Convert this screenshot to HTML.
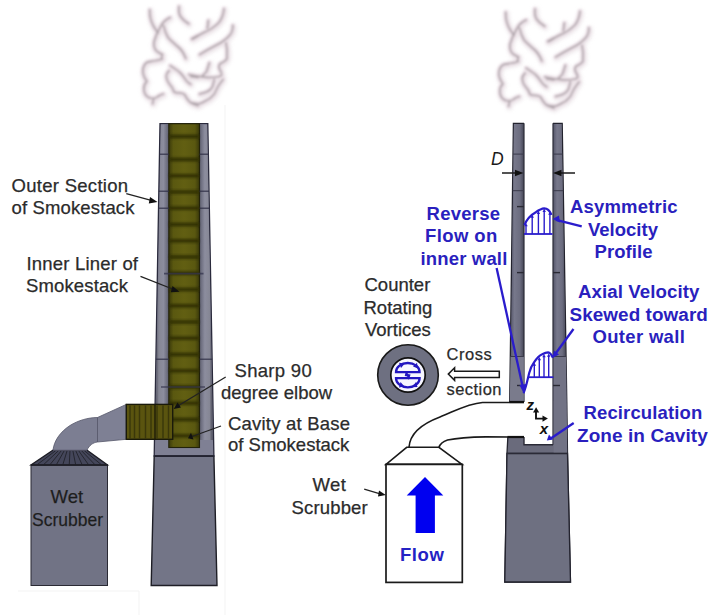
<!DOCTYPE html>
<html><head><meta charset="utf-8">
<style>
html,body{margin:0;padding:0;background:#fff;width:720px;height:615px;overflow:hidden}
svg{display:block}
text{font-family:"Liberation Sans",sans-serif;font-size:18.5px}
.k{fill:#2b2b2b;stroke:#2b2b2b;stroke-width:0.25px}
.b{fill:#2a1fbe;font-weight:bold}
</style></head><body>
<svg width="720" height="615" viewBox="0 0 720 615">
<defs><filter id="sb" x="-20%" y="-20%" width="140%" height="140%"><feGaussianBlur stdDeviation="0.8"/></filter>
<filter id="sb2" x="-30%" y="-30%" width="160%" height="160%"><feGaussianBlur stdDeviation="2.2"/></filter>
<g id="smoke" fill="none" stroke-linecap="round" stroke-linejoin="round">
<g filter="url(#sb2)" stroke="#e6dde2" stroke-width="5" opacity="0.9"><path d="M149.7,9.8 C149.5,16 151,22 154,27 C155.5,29.5 157,31 158,33" transform="translate(0.8,1.2)"/><path d="M170.2,17.6 C166,19.5 163,22 161,26 C158.5,30 156,35 154.3,41 C153.5,45 154,48 156,50.5 C158,52.5 160.5,53.5 162.4,54.6" transform="translate(0.8,1.2)"/><path d="M163.4,25.4 C164.5,30 166,34 168,37.5 C171,41 174.5,43.5 177,46 C180.5,48.5 183,51 185.8,58.5" transform="translate(0.8,1.2)"/><path d="M179,6.5 C178.6,10 178.8,13.5 180.5,16.5 C182.5,19.5 185,21.5 188.7,23.8" transform="translate(0.8,1.2)"/><path d="M224,8.8 C223.5,14 222.5,18 219,22.5 C215,26.5 210,30 204.5,32.2 C200,34.5 196,37 192.8,39" transform="translate(0.8,1.2)"/><path d="M208.4,20.5 C208,23 207.8,26 207.4,28.3" transform="translate(0.8,1.2)"/><path d="M232.8,25.4 C233,29 232.5,32 230,35 C227.5,38 225,40 222,42 C217,45 210,48 199.6,54.6" transform="translate(0.8,1.2)"/><path d="M226,42.9 C227,47 227.5,53 227,58.5 C226.5,60 224,62 220.1,63.8 C219,65 218.8,67 219.5,69 C221,71 222,73 221.5,75.5 C219,77.5 213,77.6 207.4,77.4 C201,77 196,76.5 188.9,74.5" transform="translate(0.8,1.2)"/><path d="M162.4,58.9 C159,60.5 153,61.2 147.8,62 C144,64 143,67.5 142.9,71 C142.8,75 144.5,78 146.8,81.3 C144.5,83.5 143.9,86 143.9,89 C144,93 146,96.5 149.7,97.9 C152,99 155,99 158,96.5 C160,95 161.5,94.3 163.4,94" transform="translate(0.8,1.2)"/><path d="M153.6,99.9 C153,101 152.8,102.5 152.6,103.8" transform="translate(0.8,1.2)"/><path d="M169.2,70.6 C167,72.5 166.3,74.5 166.3,76.5 C166.5,79 167,81 169,83.5 C171,85.5 172.8,88 174.1,92 C176,93 178,93 180,93 C182,93.3 183.5,93.5 184.5,94.5 C185.5,96 186.5,99 189.7,101.8 C192,103.5 195,105 198,105.7" transform="translate(0.8,1.2)"/><path d="M170.2,65.7 C173,67.5 177,70 180,72.6 C183,75.5 185,79 186.8,81.3 C188,82.5 189.5,83.8 190.7,84.3" transform="translate(0.8,1.2)"/><path d="M190.7,76.5 C193,76.8 195.5,77.1 198,77.4" transform="translate(0.8,1.2)"/><path d="M209.4,62.8 C208.5,66 207.5,69 206.5,71.6 C205.5,73 204,74.5 202.6,75.5" transform="translate(0.8,1.2)"/><path d="M223,79.4 C221,82 219.5,84 218.2,86.2 C216.5,89 215.5,92 214.3,94 C212.5,96 211,97.5 209.4,98.9 C206,100.5 203,102.5 199.6,103.8 C196,104 193.5,103.3 190.9,102.8" transform="translate(0.8,1.2)"/><path d="M214.3,79.4 C213.8,82 213.3,85 212.3,87.2 C211,89.5 209,91 206.5,92 C204,93 202,93.5 199.6,94" transform="translate(0.8,1.2)"/><path d="M191.7,39 C194,37.5 196,36.5 198,35.6" transform="translate(0.8,1.2)"/><path d="M161.4,58.5 C161.8,56.5 162,55.5 162.4,54.6" transform="translate(0.8,1.2)"/></g>
<g filter="url(#sb)">
<g stroke="#ede2e8" stroke-width="4.5"><path d="M149.7,9.8 C149.5,16 151,22 154,27 C155.5,29.5 157,31 158,33"/><path d="M170.2,17.6 C166,19.5 163,22 161,26 C158.5,30 156,35 154.3,41 C153.5,45 154,48 156,50.5 C158,52.5 160.5,53.5 162.4,54.6"/><path d="M163.4,25.4 C164.5,30 166,34 168,37.5 C171,41 174.5,43.5 177,46 C180.5,48.5 183,51 185.8,58.5"/><path d="M179,6.5 C178.6,10 178.8,13.5 180.5,16.5 C182.5,19.5 185,21.5 188.7,23.8"/><path d="M224,8.8 C223.5,14 222.5,18 219,22.5 C215,26.5 210,30 204.5,32.2 C200,34.5 196,37 192.8,39"/><path d="M208.4,20.5 C208,23 207.8,26 207.4,28.3"/><path d="M232.8,25.4 C233,29 232.5,32 230,35 C227.5,38 225,40 222,42 C217,45 210,48 199.6,54.6"/><path d="M226,42.9 C227,47 227.5,53 227,58.5 C226.5,60 224,62 220.1,63.8 C219,65 218.8,67 219.5,69 C221,71 222,73 221.5,75.5 C219,77.5 213,77.6 207.4,77.4 C201,77 196,76.5 188.9,74.5"/><path d="M162.4,58.9 C159,60.5 153,61.2 147.8,62 C144,64 143,67.5 142.9,71 C142.8,75 144.5,78 146.8,81.3 C144.5,83.5 143.9,86 143.9,89 C144,93 146,96.5 149.7,97.9 C152,99 155,99 158,96.5 C160,95 161.5,94.3 163.4,94"/><path d="M153.6,99.9 C153,101 152.8,102.5 152.6,103.8"/><path d="M169.2,70.6 C167,72.5 166.3,74.5 166.3,76.5 C166.5,79 167,81 169,83.5 C171,85.5 172.8,88 174.1,92 C176,93 178,93 180,93 C182,93.3 183.5,93.5 184.5,94.5 C185.5,96 186.5,99 189.7,101.8 C192,103.5 195,105 198,105.7"/><path d="M170.2,65.7 C173,67.5 177,70 180,72.6 C183,75.5 185,79 186.8,81.3 C188,82.5 189.5,83.8 190.7,84.3"/><path d="M190.7,76.5 C193,76.8 195.5,77.1 198,77.4"/><path d="M209.4,62.8 C208.5,66 207.5,69 206.5,71.6 C205.5,73 204,74.5 202.6,75.5"/><path d="M223,79.4 C221,82 219.5,84 218.2,86.2 C216.5,89 215.5,92 214.3,94 C212.5,96 211,97.5 209.4,98.9 C206,100.5 203,102.5 199.6,103.8 C196,104 193.5,103.3 190.9,102.8"/><path d="M214.3,79.4 C213.8,82 213.3,85 212.3,87.2 C211,89.5 209,91 206.5,92 C204,93 202,93.5 199.6,94"/><path d="M191.7,39 C194,37.5 196,36.5 198,35.6"/><path d="M161.4,58.5 C161.8,56.5 162,55.5 162.4,54.6"/></g>
<g stroke="#aaa0a6" stroke-width="1.6"><path d="M149.7,9.8 C149.5,16 151,22 154,27 C155.5,29.5 157,31 158,33"/><path d="M170.2,17.6 C166,19.5 163,22 161,26 C158.5,30 156,35 154.3,41 C153.5,45 154,48 156,50.5 C158,52.5 160.5,53.5 162.4,54.6"/><path d="M163.4,25.4 C164.5,30 166,34 168,37.5 C171,41 174.5,43.5 177,46 C180.5,48.5 183,51 185.8,58.5"/><path d="M179,6.5 C178.6,10 178.8,13.5 180.5,16.5 C182.5,19.5 185,21.5 188.7,23.8"/><path d="M224,8.8 C223.5,14 222.5,18 219,22.5 C215,26.5 210,30 204.5,32.2 C200,34.5 196,37 192.8,39"/><path d="M208.4,20.5 C208,23 207.8,26 207.4,28.3"/><path d="M232.8,25.4 C233,29 232.5,32 230,35 C227.5,38 225,40 222,42 C217,45 210,48 199.6,54.6"/><path d="M226,42.9 C227,47 227.5,53 227,58.5 C226.5,60 224,62 220.1,63.8 C219,65 218.8,67 219.5,69 C221,71 222,73 221.5,75.5 C219,77.5 213,77.6 207.4,77.4 C201,77 196,76.5 188.9,74.5"/><path d="M162.4,58.9 C159,60.5 153,61.2 147.8,62 C144,64 143,67.5 142.9,71 C142.8,75 144.5,78 146.8,81.3 C144.5,83.5 143.9,86 143.9,89 C144,93 146,96.5 149.7,97.9 C152,99 155,99 158,96.5 C160,95 161.5,94.3 163.4,94"/><path d="M153.6,99.9 C153,101 152.8,102.5 152.6,103.8"/><path d="M169.2,70.6 C167,72.5 166.3,74.5 166.3,76.5 C166.5,79 167,81 169,83.5 C171,85.5 172.8,88 174.1,92 C176,93 178,93 180,93 C182,93.3 183.5,93.5 184.5,94.5 C185.5,96 186.5,99 189.7,101.8 C192,103.5 195,105 198,105.7"/><path d="M170.2,65.7 C173,67.5 177,70 180,72.6 C183,75.5 185,79 186.8,81.3 C188,82.5 189.5,83.8 190.7,84.3"/><path d="M190.7,76.5 C193,76.8 195.5,77.1 198,77.4"/><path d="M209.4,62.8 C208.5,66 207.5,69 206.5,71.6 C205.5,73 204,74.5 202.6,75.5"/><path d="M223,79.4 C221,82 219.5,84 218.2,86.2 C216.5,89 215.5,92 214.3,94 C212.5,96 211,97.5 209.4,98.9 C206,100.5 203,102.5 199.6,103.8 C196,104 193.5,103.3 190.9,102.8"/><path d="M214.3,79.4 C213.8,82 213.3,85 212.3,87.2 C211,89.5 209,91 206.5,92 C204,93 202,93.5 199.6,94"/><path d="M191.7,39 C194,37.5 196,36.5 198,35.6"/><path d="M161.4,58.5 C161.8,56.5 162,55.5 162.4,54.6"/></g>
</g>
</g>
<linearGradient id="wallL" x1="0" x2="1" y1="0" y2="0"><stop offset="0" stop-color="#4a4a58"/><stop offset="0.25" stop-color="#868795"/><stop offset="0.6" stop-color="#8c8d9e"/><stop offset="1" stop-color="#5e5f70"/></linearGradient>
<linearGradient id="wallR" x1="0" x2="1" y1="0" y2="0"><stop offset="0" stop-color="#5e5f70"/><stop offset="0.4" stop-color="#8c8d9e"/><stop offset="0.75" stop-color="#868795"/><stop offset="1" stop-color="#4a4a58"/></linearGradient>
<linearGradient id="band" x1="0" x2="0" y1="0" y2="1"><stop offset="0" stop-color="#635e14" stop-opacity="0"/><stop offset="0.5" stop-color="#2f2f0c"/><stop offset="1" stop-color="#635e14" stop-opacity="0"/></linearGradient>
<linearGradient id="rwall" x1="0" x2="1" y1="0" y2="0"><stop offset="0" stop-color="#55566a"/><stop offset="0.3" stop-color="#77788b"/><stop offset="0.7" stop-color="#6c6d80"/><stop offset="1" stop-color="#454656"/></linearGradient>
<filter id="bb" x="-5%" y="-5%" width="110%" height="110%"><feGaussianBlur stdDeviation="0.9"/></filter>
<linearGradient id="liner" x1="0" x2="1" y1="0" y2="0"><stop offset="0" stop-color="#3a390a"/><stop offset="0.15" stop-color="#5a5810"/><stop offset="0.5" stop-color="#625f12"/><stop offset="0.85" stop-color="#5a5810"/><stop offset="1" stop-color="#3a390a"/></linearGradient>
</defs>
<use href="#smoke"/>
<use href="#smoke" transform="translate(356,2.5)"/>
<g stroke="#f3f3f3" stroke-width="1" fill="none"><path d="M225,105 V615"/><path d="M18,591 H139 V615"/></g>
<polygon points="154.2,456 213.9,456 217,585.5 151.2,585.5" fill="#737587" stroke="#1e1e26" stroke-width="1.4"/>
<polygon points="160,123.7 207.8,123.7 213.9,456 154.2,456" fill="#7f8094" stroke="#2a2a3c" stroke-width="1.3"/>
<polygon points="161,124.5 168.8,124.5 168.8,440 155.5,440" fill="url(#wallL)"/>
<polygon points="199.5,124.5 207,124.5 212.8,440 199.5,440" fill="url(#wallR)"/>
<rect x="168.8" y="123.7" width="30.7" height="323.8" fill="url(#liner)" stroke="#22220a" stroke-width="1.1"/>
<g filter="url(#bb)">
<rect x="169.3" y="134.5" width="29.7" height="4.0" fill="#2c2b07" opacity="0.8"/>
<rect x="169.3" y="157.5" width="29.7" height="4.0" fill="#2c2b07" opacity="0.8"/>
<rect x="169.3" y="173.75" width="29.7" height="4.0" fill="#2c2b07" opacity="0.8"/>
<rect x="169.3" y="190" width="29.7" height="4.0" fill="#2c2b07" opacity="0.8"/>
<rect x="169.3" y="206.25" width="29.7" height="4.0" fill="#2c2b07" opacity="0.8"/>
<rect x="169.3" y="222.5" width="29.7" height="4.0" fill="#2c2b07" opacity="0.8"/>
<rect x="169.3" y="238.75" width="29.7" height="4.0" fill="#2c2b07" opacity="0.8"/>
<rect x="169.3" y="255" width="29.7" height="4.0" fill="#2c2b07" opacity="0.8"/>
<rect x="169.3" y="271.25" width="29.7" height="4.0" fill="#2c2b07" opacity="0.8"/>
<rect x="169.3" y="287.5" width="29.7" height="4.0" fill="#2c2b07" opacity="0.8"/>
<rect x="169.3" y="303.75" width="29.7" height="4.0" fill="#2c2b07" opacity="0.8"/>
<rect x="169.3" y="320" width="29.7" height="4.0" fill="#2c2b07" opacity="0.8"/>
<rect x="169.3" y="336.25" width="29.7" height="4.0" fill="#2c2b07" opacity="0.8"/>
<rect x="169.3" y="352.5" width="29.7" height="4.0" fill="#2c2b07" opacity="0.8"/>
<rect x="169.3" y="368.75" width="29.7" height="4.0" fill="#2c2b07" opacity="0.8"/>
<rect x="169.3" y="385" width="29.7" height="4.0" fill="#2c2b07" opacity="0.8"/>
<rect x="169.3" y="401.25" width="29.7" height="4.0" fill="#2c2b07" opacity="0.8"/>
<rect x="169.3" y="417.5" width="29.7" height="4.0" fill="#2c2b07" opacity="0.8"/>
<rect x="169.3" y="433.75" width="29.7" height="4.0" fill="#2c2b07" opacity="0.8"/>
</g>
<line x1="159.47" y1="154.2" x2="169" y2="154.2" stroke="#2e2e44" stroke-width="1.2" opacity="0.9"/>
<line x1="199.5" y1="154.2" x2="208.36" y2="154.2" stroke="#2e2e44" stroke-width="1.2" opacity="0.9"/>
<line x1="158.82" y1="191.2" x2="169" y2="191.2" stroke="#2e2e44" stroke-width="1.2" opacity="0.9"/>
<line x1="199.5" y1="191.2" x2="209.04" y2="191.2" stroke="#2e2e44" stroke-width="1.2" opacity="0.9"/>
<line x1="158.52" y1="208.2" x2="169" y2="208.2" stroke="#2e2e44" stroke-width="1.2" opacity="0.9"/>
<line x1="199.5" y1="208.2" x2="209.35" y2="208.2" stroke="#2e2e44" stroke-width="1.2" opacity="0.9"/>
<line x1="155.89" y1="359.2" x2="169" y2="359.2" stroke="#2e2e44" stroke-width="1.2" opacity="0.9"/>
<line x1="199.5" y1="359.2" x2="212.13" y2="359.2" stroke="#2e2e44" stroke-width="1.2" opacity="0.9"/>
<line x1="164" y1="273.7" x2="203.5" y2="273.7" stroke="#34344e" stroke-width="1.7" opacity="0.75"/>
<line x1="161" y1="387" x2="205" y2="387" stroke="#34344e" stroke-width="1.7" opacity="0.75"/>
<line x1="154.2" y1="456" x2="213.9" y2="456" stroke="#22222e" stroke-width="1.4"/>
<rect x="31" y="465" width="76.5" height="120.5" fill="#717385" stroke="#2a2a34" stroke-width="1"/>
<polygon points="53,450.2 87,450.2 107.5,465 31,465" fill="#44465a" stroke="#1c1c24" stroke-width="1.2"/>
<line x1="55.83" y1="450.5" x2="37.38" y2="464.5" stroke="#25262f" stroke-width="1"/>
<line x1="58.67" y1="450.5" x2="43.75" y2="464.5" stroke="#25262f" stroke-width="1"/>
<line x1="61.5" y1="450.5" x2="50.12" y2="464.5" stroke="#25262f" stroke-width="1"/>
<line x1="64.33" y1="450.5" x2="56.5" y2="464.5" stroke="#25262f" stroke-width="1"/>
<line x1="67.17" y1="450.5" x2="62.88" y2="464.5" stroke="#25262f" stroke-width="1"/>
<line x1="70" y1="450.5" x2="69.25" y2="464.5" stroke="#25262f" stroke-width="1"/>
<line x1="72.83" y1="450.5" x2="75.62" y2="464.5" stroke="#25262f" stroke-width="1"/>
<line x1="75.67" y1="450.5" x2="82" y2="464.5" stroke="#25262f" stroke-width="1"/>
<line x1="78.5" y1="450.5" x2="88.38" y2="464.5" stroke="#25262f" stroke-width="1"/>
<line x1="81.33" y1="450.5" x2="94.75" y2="464.5" stroke="#25262f" stroke-width="1"/>
<line x1="84.17" y1="450.5" x2="101.12" y2="464.5" stroke="#25262f" stroke-width="1"/>
<line x1="31" y1="465" x2="107.5" y2="465" stroke="#1c1c24" stroke-width="1.5"/>
<path d="M53,450.2 C54,441 60,432 70,425.5 C78,420.5 88,417.5 97.5,417.5 L97.5,442 C93,442.5 89,445.5 87,450.2 Z" fill="#7c7e92" stroke="#55576a" stroke-width="0.8"/>
<polygon points="97.5,417.5 126.3,404.4 126.3,439.3 97.5,442" fill="#7e8094" stroke="#55576a" stroke-width="0.8"/>
<rect x="126.3" y="404.4" width="46.4" height="34.9" fill="#5a540f" stroke="#1a1a0a" stroke-width="1.4"/>
<line x1="155" y1="405" x2="155" y2="439" stroke="#1e1c08" stroke-width="1.4"/>
<line x1="130" y1="405.5" x2="130" y2="438.3" stroke="#2e2c08" stroke-width="1.5" opacity="0.7"/>
<line x1="134.5" y1="405.5" x2="134.5" y2="438.3" stroke="#2e2c08" stroke-width="1.5" opacity="0.7"/>
<line x1="139.5" y1="405.5" x2="139.5" y2="438.3" stroke="#2e2c08" stroke-width="1.5" opacity="0.7"/>
<line x1="145.5" y1="405.5" x2="145.5" y2="438.3" stroke="#2e2c08" stroke-width="1.5" opacity="0.7"/>
<line x1="151" y1="405.5" x2="151" y2="438.3" stroke="#2e2c08" stroke-width="1.5" opacity="0.7"/>
<line x1="157" y1="405.5" x2="157" y2="438.3" stroke="#2e2c08" stroke-width="1.5" opacity="0.7"/>
<line x1="163" y1="405.5" x2="163" y2="438.3" stroke="#2e2c08" stroke-width="1.5" opacity="0.7"/>
<line x1="168.5" y1="405.5" x2="168.5" y2="438.3" stroke="#2e2c08" stroke-width="1.5" opacity="0.7"/>
<polygon points="513.4,123.3 562.2,123.3 566.8,402 567.5,453 570.5,582 504.8,582 507,453 509.7,402" fill="#6a6b7c" stroke="#23232e" stroke-width="1.3"/>
<polygon points="507,453.5 567.5,453.5 570.5,582 504.8,582" fill="#6e7081" stroke="#23232e" stroke-width="1.3"/>
<polygon points="513.9,124 523.9,124 523.9,401 510.5,401" fill="url(#rwall)"/>
<polygon points="553.2,124 561.6,124 566,401 553.2,401" fill="url(#rwall)"/>
<rect x="524" y="118" width="29" height="326.8" fill="#fff"/>
<line x1="524" y1="123.3" x2="524" y2="402" stroke="#2a2a36" stroke-width="1.2"/>
<line x1="553" y1="123.3" x2="553" y2="445" stroke="#2a2a36" stroke-width="1.2"/>
<polyline points="524,437 524,444.8 553,444.8" fill="none" stroke="#2a2a36" stroke-width="1.4"/>
<polygon points="510.6,357 523.9,357 523.9,401.5 509.8,401.5" fill="#7a7b8c"/>
<polygon points="553.6,357 566,357 566.7,402 567.2,452.8 553.6,452.8" fill="#727385"/>
<line x1="512.99" y1="154.1" x2="524" y2="154.1" stroke="#3a3a4a" stroke-width="1"/>
<line x1="553" y1="154.1" x2="562.71" y2="154.1" stroke="#3a3a4a" stroke-width="1"/>
<line x1="512.51" y1="190.7" x2="524" y2="190.7" stroke="#3a3a4a" stroke-width="1"/>
<line x1="553" y1="190.7" x2="563.31" y2="190.7" stroke="#3a3a4a" stroke-width="1"/>
<line x1="510.3" y1="356.5" x2="524" y2="356.5" stroke="#3a3a4a" stroke-width="1"/>
<line x1="553" y1="356.5" x2="566.05" y2="356.5" stroke="#3a3a4a" stroke-width="1"/>
<line x1="517" y1="206.6" x2="524" y2="206.6" stroke="#2a2a34" stroke-width="1.4"/>
<line x1="517" y1="272.6" x2="524" y2="272.6" stroke="#2a2a34" stroke-width="1.4"/>
<line x1="517" y1="385.5" x2="524" y2="385.5" stroke="#2a2a34" stroke-width="1.4"/>
<line x1="553" y1="272.6" x2="560" y2="272.6" stroke="#2a2a34" stroke-width="1.4"/>
<line x1="553" y1="385.5" x2="560" y2="385.5" stroke="#2a2a34" stroke-width="1.4"/>
<line x1="507" y1="453.4" x2="567.5" y2="453.4" stroke="#2a2a36" stroke-width="1.2"/>
<path d="M409,447.3 C410,432 424,423 440,417 C455,411 468,403.5 482.5,402.5 L525,402.5 L525,437 L486,436.9 C470,437.2 455,438.5 447.5,440 C443,441.5 440,444 439,447.3 Z" fill="#fff"/>
<path d="M409,447.3 C410,432 424,423 440,417 C455,411 468,403.5 482.5,402.5 L524,402.5 M524,437 L486,436.9 C470,437.2 455,438.5 447.5,440 C443,441.5 440,444 439,447.3" fill="none" stroke="#1a1a1a" stroke-width="1.6"/>
<polygon points="406.7,447.3 438.9,447.3 462,464.4 386,464.4" fill="#fff" stroke="#1a1a1a" stroke-width="1.6"/>
<rect x="386" y="464.4" width="76.3" height="118" fill="#fff" stroke="#1a1a1a" stroke-width="1.7"/>
<polygon points="425,477 443.3,495.6 434.9,495.6 434.9,533 415.6,533 415.6,495.6 406.7,495.6" fill="#0000f0"/>
<line x1="509.5" y1="402" x2="524" y2="402" stroke="#111" stroke-width="2.2"/>
<line x1="507.5" y1="437" x2="524" y2="437" stroke="#111" stroke-width="2.2"/>
<circle cx="408" cy="375" r="30.3" fill="#6e7081" stroke="#1a1a1a" stroke-width="1.6"/>
<circle cx="408" cy="375" r="17.2" fill="#f6f6ff" stroke="#111" stroke-width="1.7"/>
<g fill="none" stroke="#2216c0" stroke-width="2.3"><path d="M396,372.2 A11.8,9.2 0 0 1 419.6,372.2 Z"/><path d="M396,378.2 A11.8,9.2 0 0 0 419.6,378.2 Z"/><path d="M407,371.5 L406.2,375 L409,375.5 L407.8,379" stroke-width="2.4"/></g>
<g fill="#2216c0"><polygon points="399,362.8 404.8,363.6 401,368"/><polygon points="417,362.8 418,368.5 413,366.5"/><polygon points="399,387.5 400.5,382 404.5,386.5"/><polygon points="417.5,387 412,387.2 416,382"/></g>
<path d="M448.3,374.1 L454.6,367.8 L454.6,371.2 L499.3,371.2 L499.3,377.5 L454.6,377.5 L454.6,380.4 Z" fill="#fff" stroke="#1a1a1a" stroke-width="1.5" stroke-linejoin="miter"/>
<text x="491" y="165" style="font-family:'Liberation Sans';font-style:italic;font-size:17.5px;fill:#1a1a1a">D</text>
<line x1="502" y1="173" x2="517" y2="173" stroke="#1a1a1a" stroke-width="1.5"/>
<polygon points="523.4,173 515,169.8 515,176.2" fill="#111"/>
<line x1="559" y1="173" x2="575" y2="173" stroke="#1a1a1a" stroke-width="1.5"/>
<polygon points="553,173 561.5,169.8 561.5,176.2" fill="#111"/>
<g fill="none" stroke="#2a1ccc" stroke-width="1.5">
<path d="M524.4,225.2 C526,221 529,216 535.8,212.2 C539,210 542,208.6 544.2,208.4 C547,208.4 549.5,210 551.5,214.8" stroke-width="2.2"/>
<line x1="524" y1="234" x2="552.5" y2="234" stroke-width="1.8"/>
<line x1="526" y1="234" x2="526" y2="225" stroke-width="1.4"/>
<line x1="532.2" y1="234" x2="532.2" y2="216.5" stroke-width="1.4"/>
<line x1="538.4" y1="234" x2="538.4" y2="212.8" stroke-width="1.4"/>
<line x1="544.2" y1="234" x2="544.2" y2="210.8" stroke-width="1.4"/>
<line x1="549.9" y1="234" x2="549.9" y2="213.5" stroke-width="1.4"/>
<path d="M523.5,393 C526,388 527.5,380 529.2,373 C530.5,368 532,365 534,362.4 C536.5,358.5 539,355.5 542.2,354.2 C544.5,353 546.5,352.4 548.1,352.4 C550,352.6 551.5,354.5 552.9,357.7" stroke-width="2.2"/>
<line x1="528" y1="377.2" x2="553.4" y2="377.2" stroke-width="1.8"/>
<line x1="534.3" y1="377" x2="534.3" y2="364.5" stroke-width="1.4"/>
<line x1="539.3" y1="377" x2="539.3" y2="359" stroke-width="1.4"/>
<line x1="544" y1="377" x2="544" y2="356" stroke-width="1.4"/>
<line x1="548.7" y1="377" x2="548.7" y2="355.5" stroke-width="1.4"/>
<line x1="581.7" y1="226.3" x2="556" y2="219.8" stroke-width="2.3"/>
<line x1="573.5" y1="329" x2="554.5" y2="355" stroke-width="2.3"/>
<line x1="496.6" y1="268" x2="523" y2="388" stroke-width="2.3"/>
<line x1="573.7" y1="423" x2="550" y2="439" stroke-width="2.3"/>
</g>
<g fill="#2a1ccc">
<polygon points="526,223 524.3,226.2 527.7,226.2"/>
<polygon points="532.2,214.5 530.5,217.7 533.9000000000001,217.7"/>
<polygon points="538.4,210.8 536.6999999999999,214.0 540.1,214.0"/>
<polygon points="544.2,208.8 542.5,212.0 545.9000000000001,212.0"/>
<polygon points="549.9,211.5 548.1999999999999,214.7 551.6,214.7"/>
<polygon points="534.3,362.5 532.5999999999999,365.7 536.0,365.7"/>
<polygon points="539.3,357 537.5999999999999,360.2 541.0,360.2"/>
<polygon points="544,354 542.3,357.2 545.7,357.2"/>
<polygon points="548.7,353.5 547.0,356.7 550.4000000000001,356.7"/>
<polygon points="552.5,219 559,215.5 560,222.5"/>
<polygon points="552.4,358 554,350.5 559,354.5"/>
<polygon points="524,394 519.5,385 526.5,384"/>
<polygon points="546.8,440.6 549,434.5 553,439.5"/>
</g>
<text x="526.6" y="409.5" style="font-family:'Liberation Sans';font-weight:bold;font-style:italic;font-size:15px;fill:#111">z</text>
<text x="539.8" y="433.8" style="font-family:'Liberation Sans';font-weight:bold;font-style:italic;font-size:15px;fill:#111">x</text>
<polyline points="536,411 536,418.6 543,418.6" fill="none" stroke="#111" stroke-width="1.9"/>
<polygon points="536.1,407.3 533,412.6 539.2,412.6" fill="#111"/>
<polygon points="547.9,418.6 542.5,415.5 542.5,421.7" fill="#111"/>
<text class="k" x="11.5" y="191.7" textLength="116.6">Outer Section</text>
<text class="k" x="11.5" y="214.4" textLength="123">of Smokestack</text>
<text class="k" x="26.5" y="269.9" textLength="111.5">Inner Liner of</text>
<text class="k" x="26" y="292.3" textLength="102">Smokestack</text>
<text class="k" x="234.5" y="376.7" textLength="77.2">Sharp 90</text>
<text class="k" x="221" y="398.9">degree elbow</text>
<text class="k" x="228" y="430" textLength="122">Cavity at Base</text>
<text class="k" x="228" y="451">of Smokestack</text>
<text class="k" x="50.5" y="503.1" style="fill:#1c1c1c">Wet</text>
<text class="k" x="32" y="525.6" textLength="71" lengthAdjust="spacingAndGlyphs" style="fill:#1c1c1c">Scrubber</text>
<text class="k" x="364.5" y="291.1">Counter</text>
<text class="k" x="363.5" y="313.6">Rotating</text>
<text class="k" x="365" y="335.8">Vortices</text>
<text class="k" x="446.5" y="360" style="font-size:16.5px" textLength="45.3">Cross</text>
<text class="k" x="446.5" y="394.6" style="font-size:16.5px" textLength="55">section</text>
<text class="k" x="312.5" y="490.8" textLength="33.5">Wet</text>
<text class="k" x="291.5" y="514.2" textLength="76.2">Scrubber</text>
<text class="b" x="426.5" y="219.8" textLength="73.6">Reverse</text>
<text class="b" x="425" y="242.4" textLength="72.2">Flow on</text>
<text class="b" x="420.5" y="265.3" textLength="86.8">inner wall</text>
<text class="b" x="570" y="213.3" textLength="107.5">Asymmetric</text>
<text class="b" x="588" y="235.6">Velocity</text>
<text class="b" x="594.5" y="258.2" textLength="58">Profile</text>
<text class="b" x="578" y="298.3" style="font-size:18.7px" textLength="121.4">Axial Velocity</text>
<text class="b" x="569.5" y="320.6" style="font-size:18.9px" textLength="138.4">Skewed toward</text>
<text class="b" x="592.5" y="343.4" textLength="92.3">Outer wall</text>
<text class="b" x="583.5" y="419.4" textLength="118.8">Recirculation</text>
<text class="b" x="577" y="442.1" style="font-size:19px" textLength="130.8">Zone in Cavity</text>
<text class="b" x="400" y="561" style="fill:#2422c4" textLength="43.8">Flow</text>
<g stroke="#222" stroke-width="1.3" fill="#111">
<line x1="126.3" y1="193.6" x2="153" y2="200.8"/>
<polygon points="157.5,202 150,197 148.8,203.5" stroke="none"/>
<line x1="140.5" y1="276.3" x2="175" y2="290"/>
<polygon points="179.5,291.8 172.5,286 170.8,292.2" stroke="none"/>
<line x1="225.7" y1="377" x2="177" y2="406.5"/>
<polygon points="173.7,409 177.5,402.5 181,407.5" stroke="none"/>
<line x1="221" y1="426" x2="192" y2="436.5"/>
<polygon points="188,438.3 191,432.8 193.5,439.5" stroke="none"/>
<line x1="364.2" y1="489.2" x2="381" y2="494"/>
<polygon points="385.8,495 379,490.5 378,496.5" stroke="none"/>
</g>
</svg>
</body></html>
